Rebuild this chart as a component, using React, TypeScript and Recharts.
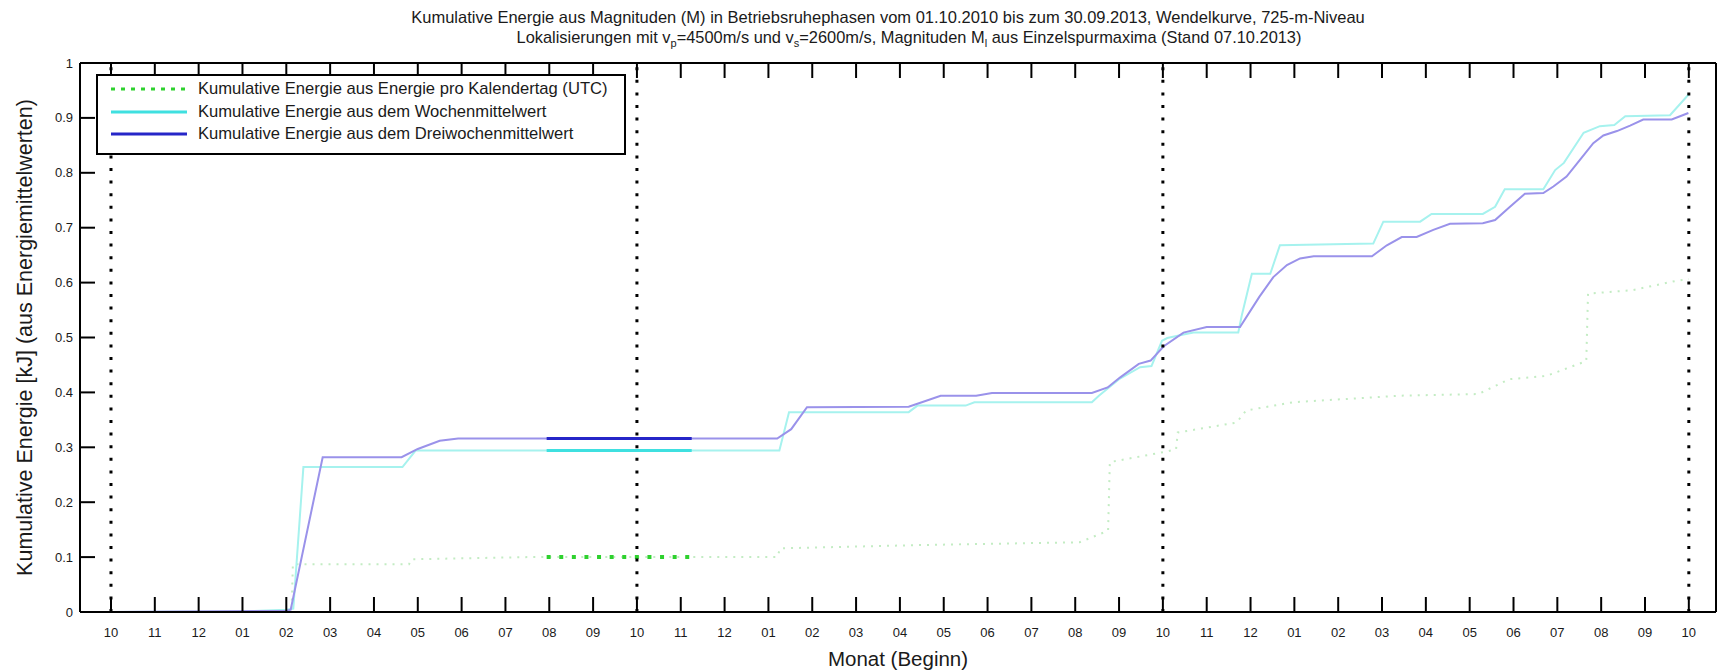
import React from "react";
import { LineChart, Line, XAxis, YAxis, ReferenceLine, Legend, Label } from "recharts";

// x unit: months since 01.10.2010
const monthLabels = [
  "10", "11", "12", "01", "02", "03", "04", "05", "06", "07", "08", "09",
  "10", "11", "12", "01", "02", "03", "04", "05", "06", "07", "08", "09",
  "10", "11", "12", "01", "02", "03", "04", "05", "06", "07", "08", "09",
  "10",
];
const monthTicks = monthLabels.map((_, i) => i);
const yTicks = [0, 0.1, 0.2, 0.3, 0.4, 0.5, 0.6, 0.7, 0.8, 0.9, 1];
const yearStarts = [0, 12, 24, 36];

const legendNames = [
  "Kumulative Energie aus Energie pro Kalendertag (UTC)",
  "Kumulative Energie aus dem Wochenmittelwert",
  "Kumulative Energie aus dem Dreiwochenmittelwert",
];

// kumulative Energie aus Energie pro Kalendertag
const dailyEnergy = [
  { m: 0, v: 0 }, { m: 4.12, v: 0 }, { m: 4.15, v: 0.087 }, { m: 6.8, v: 0.087 },
  { m: 6.85, v: 0.096 }, { m: 9.5, v: 0.1 }, { m: 15.2, v: 0.1 }, { m: 15.27, v: 0.116 },
  { m: 18.5, v: 0.122 }, { m: 22.1, v: 0.127 }, { m: 22.75, v: 0.148 }, { m: 22.79, v: 0.273 },
  { m: 24.0, v: 0.291 }, { m: 24.3, v: 0.296 }, { m: 24.34, v: 0.327 }, { m: 25.68, v: 0.345 },
  { m: 25.9, v: 0.367 }, { m: 26.96, v: 0.382 }, { m: 29.4, v: 0.394 }, { m: 31.2, v: 0.397 },
  { m: 31.9, v: 0.424 }, { m: 32.75, v: 0.43 }, { m: 33.66, v: 0.457 }, { m: 33.7, v: 0.58 },
  { m: 34.7, v: 0.586 }, { m: 35.76, v: 0.604 }, { m: 36.0, v: 0.606 },
];

// aus dem Wochenmittelwert
const weekMean = [
  { m: 0, v: 0 }, { m: 3.0, v: 0.001 }, { m: 4.0, v: 0.004 }, { m: 4.16, v: 0.006 },
  { m: 4.39, v: 0.264 }, { m: 6.65, v: 0.264 }, { m: 6.95, v: 0.294 }, { m: 15.25, v: 0.294 },
  { m: 15.47, v: 0.364 }, { m: 18.2, v: 0.364 }, { m: 18.4, v: 0.376 }, { m: 19.5, v: 0.376 },
  { m: 19.7, v: 0.382 }, { m: 22.38, v: 0.382 }, { m: 22.54, v: 0.394 }, { m: 23.0, v: 0.424 },
  { m: 23.48, v: 0.446 }, { m: 23.74, v: 0.448 }, { m: 23.98, v: 0.494 }, { m: 24.1, v: 0.499 },
  { m: 24.5, v: 0.506 }, { m: 24.7, v: 0.509 }, { m: 25.72, v: 0.509 }, { m: 25.8, v: 0.54 },
  { m: 26.03, v: 0.616 }, { m: 26.45, v: 0.616 }, { m: 26.67, v: 0.668 }, { m: 28.8, v: 0.671 },
  { m: 29.03, v: 0.711 }, { m: 29.87, v: 0.711 }, { m: 30.13, v: 0.725 }, { m: 31.3, v: 0.725 },
  { m: 31.58, v: 0.738 }, { m: 31.8, v: 0.77 }, { m: 32.68, v: 0.77 }, { m: 32.95, v: 0.805 },
  { m: 33.15, v: 0.818 }, { m: 33.6, v: 0.873 }, { m: 33.97, v: 0.885 }, { m: 34.3, v: 0.887 },
  { m: 34.55, v: 0.903 }, { m: 35.57, v: 0.905 }, { m: 36.0, v: 0.943 },
];

// aus dem Dreiwochenmittelwert
const threeWeekMean = [
  { m: 0, v: 0 }, { m: 4.0, v: 0.002 }, { m: 4.1, v: 0.004 }, { m: 4.83, v: 0.282 },
  { m: 6.63, v: 0.282 }, { m: 7.0, v: 0.297 }, { m: 7.5, v: 0.312 }, { m: 7.92, v: 0.316 },
  { m: 15.2, v: 0.316 }, { m: 15.52, v: 0.333 }, { m: 15.88, v: 0.373 }, { m: 18.2, v: 0.374 },
  { m: 18.5, v: 0.382 }, { m: 18.93, v: 0.394 }, { m: 19.74, v: 0.394 }, { m: 20.1, v: 0.399 },
  { m: 22.38, v: 0.399 }, { m: 22.74, v: 0.409 }, { m: 23.02, v: 0.427 }, { m: 23.45, v: 0.452 },
  { m: 23.72, v: 0.458 }, { m: 24.02, v: 0.484 }, { m: 24.47, v: 0.509 }, { m: 25.0, v: 0.519 },
  { m: 25.76, v: 0.519 }, { m: 26.2, v: 0.574 }, { m: 26.52, v: 0.61 }, { m: 26.83, v: 0.632 },
  { m: 27.13, v: 0.644 }, { m: 27.44, v: 0.648 }, { m: 28.77, v: 0.648 }, { m: 29.11, v: 0.668 },
  { m: 29.45, v: 0.683 }, { m: 29.79, v: 0.683 }, { m: 30.17, v: 0.696 }, { m: 30.55, v: 0.707 },
  { m: 31.3, v: 0.708 }, { m: 31.58, v: 0.714 }, { m: 31.92, v: 0.738 }, { m: 32.26, v: 0.762 },
  { m: 32.68, v: 0.763 }, { m: 32.91, v: 0.775 }, { m: 33.21, v: 0.793 }, { m: 33.52, v: 0.824 },
  { m: 33.82, v: 0.854 }, { m: 34.05, v: 0.868 }, { m: 34.36, v: 0.876 }, { m: 34.66, v: 0.886 },
  { m: 34.96, v: 0.897 }, { m: 35.61, v: 0.897 }, { m: 35.8, v: 0.903 }, { m: 35.99, v: 0.909 },
];

// hervorgehobene Betriebsruhephase (Aug - Nov 2011)
const dailyHighlight = [{ m: 9.94, v: 0.1 }, { m: 13.25, v: 0.1 }];
const weekHighlight = [{ m: 9.94, v: 0.294 }, { m: 13.25, v: 0.294 }];
const threeWeekHighlight = [{ m: 9.94, v: 0.316 }, { m: 13.25, v: 0.316 }];

const FONT = "'Liberation Sans', Arial, Helvetica, sans-serif";
const TEXT = "#1a1a1a";
const GREEN = "#2ed12e";
const CYAN = "#3fe0e0";
const BLUE = "#2626c8";

const BottomTick = (props: any) => {
  const { x, y, payload } = props;
  const axisY = y - 20;
  return (
    <g>
      <line x1={x} x2={x} y1={axisY} y2={axisY - 15} stroke="#000" strokeWidth={2} />
      <text x={x} y={y} textAnchor="middle" dominantBaseline="central" fontSize={13} fill={TEXT} fontFamily={FONT}>
        {monthLabels[Math.round(payload.value)]}
      </text>
    </g>
  );
};

const TopTick = (props: any) => {
  const { x, y } = props;
  return <line x1={x} x2={x} y1={y} y2={y + 15} stroke="#000" strokeWidth={2} />;
};

const LeftTick = (props: any) => {
  const { x, y, payload } = props;
  const v = payload.value;
  const label = v === 0 ? "0" : v === 1 ? "1" : v.toFixed(1);
  return (
    <g>
      <line x1={x + 7} x2={x + 22} y1={y} y2={y} stroke="#000" strokeWidth={2} />
      <text x={x} y={y} textAnchor="end" dominantBaseline="central" fontSize={13} fill={TEXT} fontFamily={FONT}>
        {label}
      </text>
    </g>
  );
};

const RightTick = (props: any) => {
  const { x, y } = props;
  return <line x1={x - 15} x2={x} y1={y} y2={y} stroke="#000" strokeWidth={2} />;
};

const LegendBox = () => {
  const samples = [
    { color: GREEN, dash: "4 6", width: 3 },
    { color: CYAN, dash: undefined, width: 3 },
    { color: BLUE, dash: undefined, width: 3 },
  ];
  return (
    <div
      style={{
        position: "relative",
        width: 530,
        height: 81,
        border: "2px solid #000",
        boxSizing: "border-box",
        background: "#fff",
        fontFamily: FONT,
      }}
    >
      {legendNames.map((name, i) => (
        <div key={name} style={{ position: "absolute", left: 12, top: 3 + i * 22.5, height: 20, display: "flex", alignItems: "center" }}>
          <svg width={78} height={20}>
            <line
              x1={1}
              x2={77}
              y1={10}
              y2={10}
              stroke={samples[i].color}
              strokeWidth={samples[i].width}
              strokeDasharray={samples[i].dash}
            />
          </svg>
          <span style={{ marginLeft: 10, fontSize: 16.6, color: TEXT, whiteSpace: "nowrap" }}>{name}</span>
        </div>
      ))}
    </div>
  );
};

const subStyle: React.CSSProperties = { fontSize: 11, verticalAlign: "baseline", position: "relative", top: 4 };

const App: React.FC = () => {
  return (
    <div style={{ position: "absolute", left: 0, top: 0, width: 1717, height: 671, background: "#fff", fontFamily: FONT }}>
      <div style={{ position: "absolute", left: 0, top: 8, width: 1776, textAlign: "center", fontSize: 16.5, lineHeight: "19px", color: TEXT, whiteSpace: "nowrap" }}>
        Kumulative Energie aus Magnituden (M) in Betriebsruhephasen vom 01.10.2010 bis zum 30.09.2013, Wendelkurve, 725-m-Niveau
      </div>
      <div style={{ position: "absolute", left: 0, top: 28, width: 1818, textAlign: "center", fontSize: 16.4, lineHeight: "19px", color: TEXT, whiteSpace: "nowrap" }}>
        Lokalisierungen mit v<sub style={subStyle}>p</sub>=4500m/s und v<sub style={subStyle}>s</sub>=2600m/s, Magnituden M
        <sub style={subStyle}>l</sub> aus Einzelspurmaxima (Stand 07.10.2013)
      </div>
      <LineChart width={1717} height={671} margin={{ top: 0, right: 0, bottom: 0, left: 0 }}>
        <XAxis
          xAxisId="bottom"
          dataKey="m"
          type="number"
          domain={[-0.707, 36.62]}
          allowDataOverflow
          ticks={monthTicks}
          interval={0}
          height={59}
          tickSize={0}
          tickMargin={20}
          tick={<BottomTick />}
          tickLine={false}
          axisLine={{ stroke: "#000", strokeWidth: 2 }}
        >
          <Label value="Monat (Beginn)" position="insideBottom" offset={5} style={{ fontSize: 20.5, fill: TEXT, fontFamily: FONT }} />
        </XAxis>
        <XAxis
          xAxisId="top"
          orientation="top"
          dataKey="m"
          type="number"
          domain={[-0.707, 36.62]}
          allowDataOverflow
          ticks={monthTicks}
          interval={0}
          height={63}
          tickSize={0}
          tickMargin={0}
          tick={<TopTick />}
          tickLine={false}
          axisLine={{ stroke: "#000", strokeWidth: 2 }}
        />
        <YAxis
          yAxisId="left"
          type="number"
          domain={[0, 1]}
          ticks={yTicks}
          interval={0}
          width={80}
          tickSize={0}
          tickMargin={7}
          tick={<LeftTick />}
          tickLine={false}
          axisLine={{ stroke: "#000", strokeWidth: 2 }}
        >
          <Label
            value="Kumulative Energie [kJ] (aus Energiemittelwerten)"
            angle={-90}
            position="insideLeft"
            offset={24}
            style={{ textAnchor: "middle", fontSize: 21.5, fill: TEXT, fontFamily: FONT }}
          />
        </YAxis>
        <YAxis
          yAxisId="right"
          orientation="right"
          type="number"
          domain={[0, 1]}
          ticks={yTicks}
          interval={0}
          width={1}
          tickSize={0}
          tickMargin={0}
          tick={<RightTick />}
          tickLine={false}
          axisLine={{ stroke: "#000", strokeWidth: 2 }}
        />

        <Line xAxisId="bottom" yAxisId="left" data={dailyEnergy} dataKey="v" type="linear" stroke="#c3ecc3" strokeWidth={2} strokeDasharray="2 6" dot={false} legendType="none" isAnimationActive={false} />
        <Line xAxisId="bottom" yAxisId="left" data={weekMean} dataKey="v" type="linear" stroke="#a6f2ee" strokeWidth={2} dot={false} legendType="none" isAnimationActive={false} />
        <Line xAxisId="bottom" yAxisId="left" data={threeWeekMean} dataKey="v" type="linear" stroke="#9a92ea" strokeWidth={2} dot={false} legendType="none" isAnimationActive={false} />
        <Line xAxisId="bottom" yAxisId="left" data={dailyHighlight} dataKey="v" type="linear" stroke={GREEN} strokeWidth={4} strokeDasharray="4 8.6" dot={false} name={legendNames[0]} isAnimationActive={false} />
        <Line xAxisId="bottom" yAxisId="left" data={weekHighlight} dataKey="v" type="linear" stroke={CYAN} strokeWidth={3} dot={false} name={legendNames[1]} isAnimationActive={false} />
        <Line xAxisId="bottom" yAxisId="left" data={threeWeekHighlight} dataKey="v" type="linear" stroke={BLUE} strokeWidth={3} dot={false} name={legendNames[2]} isAnimationActive={false} />

        {yearStarts.map((m) => (
          <ReferenceLine key={m} xAxisId="bottom" yAxisId="left" x={m} stroke="#000" strokeWidth={3} strokeDasharray="3 9.6" />
        ))}

        <Legend
          layout="vertical"
          align="center"
          verticalAlign="middle"
          content={<LegendBox />}
          wrapperStyle={{ left: 96, top: 74, width: 530, height: 81 }}
        />
      </LineChart>
    </div>
  );
};

export default App;
